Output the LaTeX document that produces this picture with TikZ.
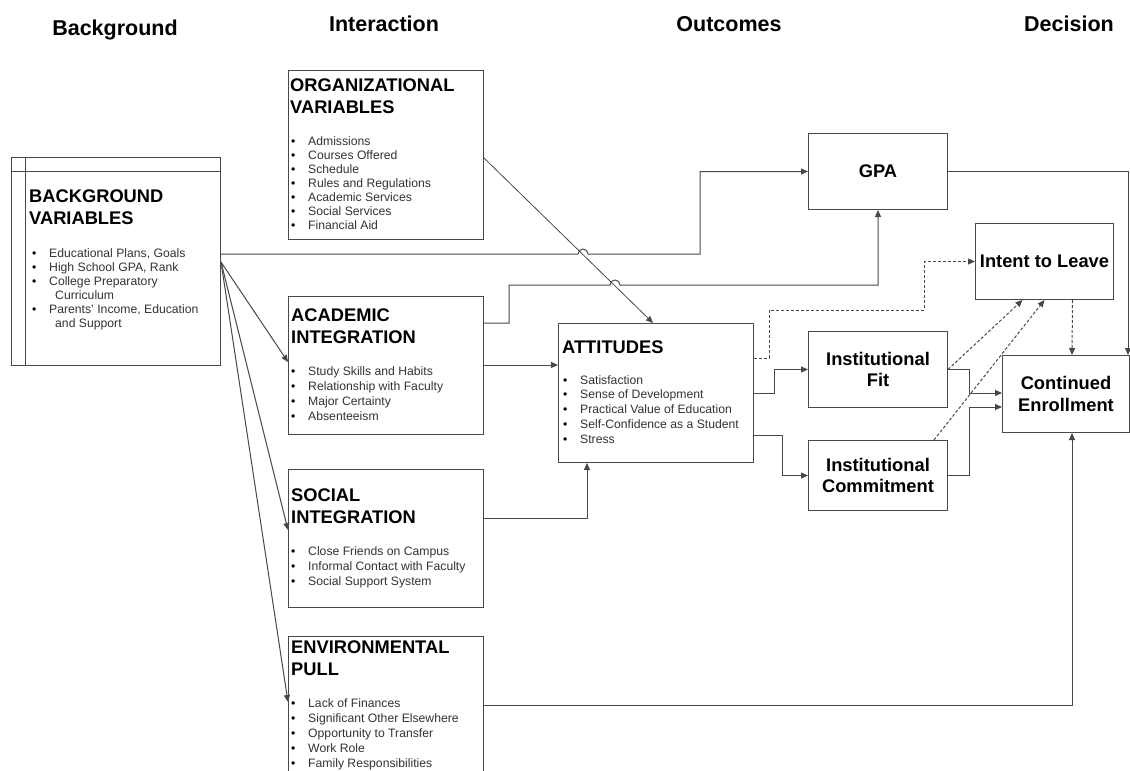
\documentclass[tikz,border=0pt]{standalone}
\usepackage{fontspec}
\setmainfont{Liberation Sans}
\usetikzlibrary{arrows.meta,calc}
\definecolor{lnk}{RGB}{72,72,72}
\definecolor{itmgray}{RGB}{50,50,50}
\newcommand{\blt}{\makebox[17pt][l]{\textcolor{black}{\textbullet}}}
\tikzset{
  box/.style={draw=lnk, line width=1pt, anchor=north west, inner sep=0pt},
  ttl/.style={font=\fontsize{18.3}{21.5}\selectfont\bfseries, anchor=base west, inner sep=0pt, align=left},
  itm/.style={font=\fontsize{12.2}{14}\selectfont, text=itmgray, anchor=base west, inner sep=0pt},
  lbl/.style={font=\fontsize{18.3}{21.5}\selectfont\bfseries, align=center},
  hdr/.style={font=\fontsize{21.5}{24}\selectfont\bfseries, anchor=base, inner sep=0pt},
  flow/.style={draw=lnk, line width=1pt, -{Triangle[length=7pt,width=6pt]}},
  pull/.style={flow, dash pattern=on 3pt off 2pt}
}

\begin{document}
\begin{tikzpicture}[x=1pt, y=-1pt]
  \useasboundingbox (0,0) rectangle (1130,771);
  \clip (0,0) rectangle (1130,771);
  % column headings
  \node[hdr] (h-bg) at (115,35) {Background};
  \node[hdr] (h-int) at (384,31) {Interaction};
  \node[hdr] (h-out) at (729,31) {Outcomes};
  \node[hdr] (h-dec) at (1069,31) {Decision};

  % background variables (titles sit on the baseline of their last line)
  \node[box, minimum width=209, minimum height=208] (bg) at (11,157) {};
  \draw[lnk, line width=1pt] ($(bg.north west)+(14,0)$) -- ($(bg.south west)+(14,0)$);
  \draw[lnk, line width=1pt] ($(bg.north west)+(0,14)$) -- ($(bg.north east)+(0,14)$);
  \node[ttl] (bg-t) at (29,224) {BACKGROUND\\VARIABLES};
  \foreach \t/\y [count=\i] in {{Educational Plans, Goals}/257, {High School GPA, Rank}/271,
      College Preparatory/285, {Parents' Income, Education}/313}
    \node[itm] (bg-\i) at (32,\y) {\blt\t};
  \node[itm] (bg-c1) at (55,299) {Curriculum};
  \node[itm] (bg-c2) at (55,327) {and Support};

  % interaction boxes
  \node[box, minimum width=195, minimum height=169] (org) at (288,70) {};
  \node[ttl] (org-t) at (290,113) {ORGANIZATIONAL\\VARIABLES};
  \foreach \t [count=\i from 0] in {Admissions, Courses Offered, Schedule, Rules and Regulations,
      Academic Services, Social Services, Financial Aid}
    \node[itm] (org-\i) at (291,145+14*\i) {\blt\t};

  \node[box, minimum width=195, minimum height=138] (acad) at (288,296) {};
  \node[ttl] (acad-t) at (291,343) {ACADEMIC\\INTEGRATION};
  \foreach \t [count=\i from 0] in {Study Skills and Habits, Relationship with Faculty,
      Major Certainty, Absenteeism}
    \node[itm] (acad-\i) at (291,375+15*\i) {\blt\t};

  \node[box, minimum width=195, minimum height=138] (soc) at (288,469) {};
  \node[ttl] (soc-t) at (291,523) {SOCIAL\\INTEGRATION};
  \foreach \t [count=\i from 0] in {Close Friends on Campus, Informal Contact with Faculty,
      Social Support System}
    \node[itm] (soc-\i) at (291,555+15*\i) {\blt\t};

  \node[box, minimum width=195, minimum height=150] (env) at (288,636) {};
  \node[ttl] (env-t) at (291,675) {ENVIRONMENTAL\\PULL};
  \foreach \t [count=\i from 0] in {Lack of Finances, Significant Other Elsewhere,
      Opportunity to Transfer, Work Role, Family Responsibilities}
    \node[itm] (env-\i) at (291,707+15*\i) {\blt\t};

  % outcomes
  \node[box, minimum width=195, minimum height=139] (att) at (558,323) {};
  \node[ttl] (att-t) at (562,353) {ATTITUDES};
  \foreach \t [count=\i from 0] in {Satisfaction, Sense of Development, Practical Value of Education,
      Self-Confidence as a Student, Stress}
    \node[itm] (att-\i) at (563,384+14.75*\i) {\blt\t};

  \node[box, lbl, minimum width=139, minimum height=76] (gpa) at (808,133) {GPA};
  \node[box, lbl, minimum width=138, minimum height=76] (intent) at (975,223) {Intent to Leave};
  \node[box, lbl, minimum width=139, minimum height=76] (fit) at (808,331) {Institutional\\Fit};
  \node[box, lbl, minimum width=139, minimum height=70] (commit) at (808,440) {Institutional\\Commitment};
  \node[box, lbl, minimum width=127, minimum height=77] (enrol) at (1002,355) {Continued\\Enrollment};

  % background links (with hops over the diagonal)
  \draw[flow] ($(bg.north east)+(0,97)$) -- (578,254)
    arc[start angle=180, end angle=360, radius=5] -- (700,254) |- (gpa.west);
  \foreach \n/\d in {acad/66, soc/61, env/66}
    \draw[flow] ($(bg.north east)+(0,105)$) -- ($(\n.north west)+(0,\d)$);

  % interaction to outcomes
  \draw[flow] ($(acad.north east)+(0,27)$) -- ++(25,0) -- ++(0,-38) -- (610,285)
    arc[start angle=180, end angle=360, radius=5] -| (gpa.south);
  \draw[flow, line width=0.8pt] ($(org.north east)+(0,88)$) -- ($(att.north west)+(95,0)$);
  \draw[flow] ($(acad.north east)+(0,69)$) -- ($(att.north west)+(0,42)$);
  \draw[flow] ($(soc.north east)+(0,49)$) -| ($(att.south west)+(29,0)$);

  % attitudes to fit, commitment and intent
  \draw[flow] ($(att.north east)+(0,70)$) -- ++(20,0) |- (fit.west);
  \draw[flow] ($(att.north east)+(0,112)$) -- ++(28,0) |- (commit.west);
  \draw[pull] ($(att.north east)+(0,35)$) -- ++(15,0) |- ++(155,-48) |- (intent.west);

  % decision
  \draw[flow] (fit.east) -- ++(21,0) |- ($(enrol.north west)+(0,38)$);
  \draw[flow] (commit.east) -- ++(21,0) |- ($(enrol.north west)+(0,52)$);
  \draw[pull] (fit.east) -- ($(intent.south)+(-22,0)$);
  \draw[pull] ($(commit.north east)+(-14,0)$) -- (intent.south);
  \draw[pull] ($(intent.south)+(28,0)$) -- ($(enrol.north west)+(70,0)$);
  \draw[flow] (gpa.east) -| ($(enrol.north east)+(-2,0)$);
  \draw[flow] ($(env.north east)+(0,69)$) -| ($(enrol.south west)+(70,0)$);
\end{tikzpicture}
\end{document}
